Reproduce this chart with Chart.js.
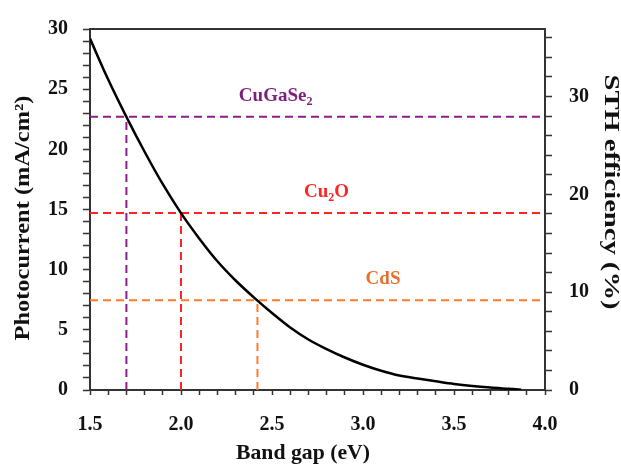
<!DOCTYPE html>
<html>
<head>
<meta charset="utf-8">
<script src="https://cdn.jsdelivr.net/npm/chart.js@4.4.1/dist/chart.umd.min.js"></script>
<style>
  html, body { margin: 0; padding: 0; background: #fff; }
  #wrap { width: 621px; height: 466px; }
</style>
</head>
<body>
<div id="wrap"><canvas id="gapChart" width="621" height="466"></canvas></div>
<script>
// theoretical photocurrent vs absorber band gap
const bandGap = [1.5, 1.6, 1.7, 1.8, 1.9, 2.0, 2.1, 2.2, 2.3, 2.4, 2.5, 2.6, 2.7,
                 2.8, 2.9, 3.0, 3.1, 3.2, 3.3, 3.4, 3.5, 3.6, 3.7, 3.8, 3.87];
const photocurrent = [29.2, 25.8, 22.7, 19.8, 17.1, 14.7, 12.6, 10.7, 9.1, 7.7, 6.4, 5.2, 4.2,
                      3.4, 2.7, 2.1, 1.6, 1.2, 0.95, 0.72, 0.5, 0.33, 0.2, 0.1, 0.03];

// reference absorbers
const materials = ['CuGaSe_2', 'Cu_2O', 'CdS'];
const materialGap = [1.7, 2.0, 2.42];
const materialCurrent = [22.7, 14.7, 7.45];
const materialColors = ['#8a1f8a', '#ff2424', '#ff7a2e'];
const labelColors = ['#7d1f7d', '#ff2424', '#e8702e'];

// axis ranges and titles
const gapRange = [1.5, 4.0];
const currentRange = [0, 30];
const sthRange = [0, 36.9]; // 1.23 V * J
const xTitle = 'Band gap (eV)';
const yTitle = 'Photocurrent (mA/cm²)';
const y2Title = 'STH efficiency (%)';

const serif = '"Liberation Serif", "Times New Roman", serif';
const tickFont = { family: serif, size: 20, weight: 'bold' };
const axisColor = '#333';

const isMultiple = (v, step) => Math.abs(v / step - Math.round(v / step)) < 1e-6;

const datasets = [{
  data: bandGap.map((g, i) => ({ x: g, y: photocurrent[i] })),
  borderColor: '#000',
  borderWidth: 2.5,
  pointRadius: 0,
  cubicInterpolationMode: 'monotone'
}];

materials.forEach((m, i) => {
  // horizontal line across the plot
  datasets.push({
    data: [{ x: gapRange[0], y: materialCurrent[i] }, { x: gapRange[1], y: materialCurrent[i] }],
    borderColor: materialColors[i], borderWidth: 2, borderDash: [8, 5], pointRadius: 0
  });
  // drop line down to the band gap
  datasets.push({
    data: [{ x: materialGap[i], y: 0 }, { x: materialGap[i], y: materialCurrent[i] }],
    borderColor: materialColors[i], borderWidth: 2, borderDash: [8, 5], pointRadius: 0
  });
});

// names with "_n" drawn as subscripts
function drawFormula(ctx, text, cx, baseY, color) {
  const parts = [];
  text.split('_').forEach((chunk, i) => {
    if (i === 0) { parts.push({ t: chunk, sub: false }); return; }
    parts.push({ t: chunk[0], sub: true });
    if (chunk.length > 1) parts.push({ t: chunk.slice(1), sub: false });
  });
  const big = 'bold 19px ' + serif;
  const small = 'bold 12px ' + serif;
  let total = 0;
  parts.forEach(p => { ctx.font = p.sub ? small : big; p.w = ctx.measureText(p.t).width; total += p.w; });
  let x = cx - total / 2;
  ctx.fillStyle = color;
  ctx.textBaseline = 'alphabetic';
  ctx.textAlign = 'left';
  parts.forEach(p => {
    ctx.font = p.sub ? small : big;
    ctx.fillText(p.t, x, p.sub ? baseY + 4 : baseY);
    x += p.w;
  });
}

const labelAt = [2.52, 2.8, 3.11];

const materialLabels = {
  id: 'materialLabels',
  afterDatasetsDraw(chart) {
    const { ctx, scales: { x, y } } = chart;
    ctx.save();
    materials.forEach((name, i) => {
      drawFormula(ctx, name, x.getPixelForValue(labelAt[i]),
                  y.getPixelForValue(materialCurrent[i]) - 16, labelColors[i]);
    });
    ctx.restore();
  }
};

// axis titles, stretched along the text to the original's lengths
function drawTitle(ctx, text, cx, cy, angle, size, length) {
  ctx.save();
  ctx.font = 'bold ' + size + 'px ' + serif;
  ctx.fillStyle = '#111';
  ctx.textAlign = 'center';
  ctx.textBaseline = 'middle';
  ctx.translate(cx, cy);
  ctx.rotate(angle);
  ctx.scale(length / ctx.measureText(text).width, 1);
  ctx.fillText(text, 0, 0);
  ctx.restore();
}

const axisTitles = {
  id: 'axisTitles',
  afterDraw(chart) {
    const { ctx } = chart;
    drawTitle(ctx, xTitle, 303, 454, 0, 21, 134);
    drawTitle(ctx, yTitle, 23, 218, -Math.PI / 2, 22, 245);
    drawTitle(ctx, y2Title, 610, 192, Math.PI / 2, 21, 235);
  }
};

const ctx = document.getElementById('gapChart').getContext('2d');
new Chart(ctx, {
  type: 'line',
  data: { datasets },
  plugins: [materialLabels, axisTitles],
  options: {
    responsive: false,
    animation: false,
    layout: { padding: 0 },
    plugins: { legend: { display: false }, tooltip: { enabled: false } },
    scales: {
      x: {
        type: 'linear', position: 'bottom',
        min: gapRange[0], max: gapRange[1],
        afterFit: s => { s.height = 76; },
        ticks: {
          stepSize: 0.1, autoSkip: false, maxRotation: 0, padding: 18,
          color: '#111', font: tickFont,
          callback: v => isMultiple(v, 0.5) ? v.toFixed(1) : ''
        },
        grid: { drawOnChartArea: false, tickLength: 5, tickColor: axisColor, tickWidth: 1.5 },
        border: { color: axisColor, width: 2 }
      },
      xTop: {
        type: 'linear', position: 'top',
        min: gapRange[0], max: gapRange[1],
        afterFit: s => { s.height = 23; },
        ticks: { display: false },
        grid: { display: false },
        border: { color: axisColor, width: 2 }
      },
      y: {
        position: 'left',
        min: currentRange[0], max: currentRange[1],
        afterFit: s => { s.width = 90; },
        ticks: {
          stepSize: 1, autoSkip: false, padding: 15,
          color: '#111', font: tickFont,
          callback: v => isMultiple(v, 5) ? v : ''
        },
        grid: { drawOnChartArea: false, tickLength: 7, tickColor: axisColor, tickWidth: 1.5 },
        border: { color: axisColor, width: 2 }
      },
      yRight: {
        position: 'right',
        min: sthRange[0], max: sthRange[1],
        afterFit: s => { s.width = 76; },
        afterBuildTicks: s => { s.ticks = s.ticks.filter(t => isMultiple(t.value, 2)); },
        ticks: {
          stepSize: 2, includeBounds: false, autoSkip: false, padding: 17,
          color: '#111', font: tickFont,
          callback: v => isMultiple(v, 10) ? v : ''
        },
        grid: { drawOnChartArea: false, tickLength: 7, tickColor: axisColor, tickWidth: 1.5 },
        border: { color: axisColor, width: 2 }
      }
    }
  }
});
</script>
</body>
</html>
